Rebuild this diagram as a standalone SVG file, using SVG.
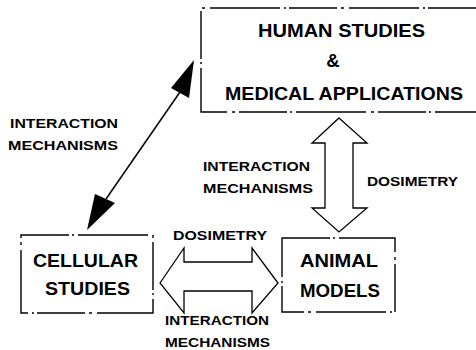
<svg xmlns="http://www.w3.org/2000/svg" width="476" height="350" viewBox="0 0 476 350">
<defs>
<style>
.box{fill:none;stroke:#000;stroke-width:1.4;stroke-dasharray:48 3 2 4 70 5 3 4}
.arr{fill:none;stroke:#000;stroke-width:1.3;stroke-linejoin:miter}
.big{font-family:"Liberation Sans",Arial,sans-serif;font-weight:bold;font-size:18.5px;fill:#000}
.sm{font-family:"Liberation Sans",Arial,sans-serif;font-weight:bold;font-size:13.5px;fill:#000}
</style>
</defs>
<rect width="476" height="350" fill="#fff"/>
<g id="human">
<path class="box" d="M476,8 H201 V112 H476"/>
<text class="big" x="258" y="37" textLength="167" lengthAdjust="spacingAndGlyphs">HUMAN STUDIES</text>
<text class="big" x="333" y="67" text-anchor="middle">&amp;</text>
<text class="big" x="225" y="100" textLength="238" lengthAdjust="spacingAndGlyphs">MEDICAL APPLICATIONS</text>
</g>
<g id="cellular">
<path class="box" d="M21,235 H153 V313 H21 Z"/>
<text class="big" x="33" y="267" textLength="105" lengthAdjust="spacingAndGlyphs">CELLULAR</text>
<text class="big" x="45" y="295" textLength="85" lengthAdjust="spacingAndGlyphs">STUDIES</text>
</g>
<g id="animal">
<path class="box" d="M282,238 H395 V312 H282 Z"/>
<text class="big" x="300" y="267" textLength="78" lengthAdjust="spacingAndGlyphs">ANIMAL</text>
<text class="big" x="300" y="297" textLength="80" lengthAdjust="spacingAndGlyphs">MODELS</text>
</g>
<g id="connectors">
<line x1="106" y1="199" x2="180" y2="92" stroke="#000" stroke-width="1.5"/>
<polygon points="87,230 95,194 115,203" fill="#000"/>
<polygon points="194,60 171,88 189,98" fill="#000"/>
<path class="arr" d="M160,283 L184,248 V262 H252 V248 L278,283 L252,313 V291 H184 V313 Z"/>
<path class="arr" d="M339,118 L367,143 H353 V208 H367 L339,232 L312,208 H325 V143 H312 Z"/>
</g>
<g id="labels">
<text class="sm" x="10" y="128" textLength="108" lengthAdjust="spacingAndGlyphs">INTERACTION</text>
<text class="sm" x="8" y="150" textLength="110" lengthAdjust="spacingAndGlyphs">MECHANISMS</text>
<text class="sm" x="203" y="171" textLength="107" lengthAdjust="spacingAndGlyphs">INTERACTION</text>
<text class="sm" x="203" y="193" textLength="110" lengthAdjust="spacingAndGlyphs">MECHANISMS</text>
<text class="sm" x="367" y="186" textLength="91" lengthAdjust="spacingAndGlyphs">DOSIMETRY</text>
<text class="sm" x="173" y="240" textLength="94" lengthAdjust="spacingAndGlyphs">DOSIMETRY</text>
<text class="sm" x="165" y="325" textLength="104" lengthAdjust="spacingAndGlyphs">INTERACTION</text>
<text class="sm" x="165" y="347" textLength="105" lengthAdjust="spacingAndGlyphs">MECHANISMS</text>
</g>
</svg>
